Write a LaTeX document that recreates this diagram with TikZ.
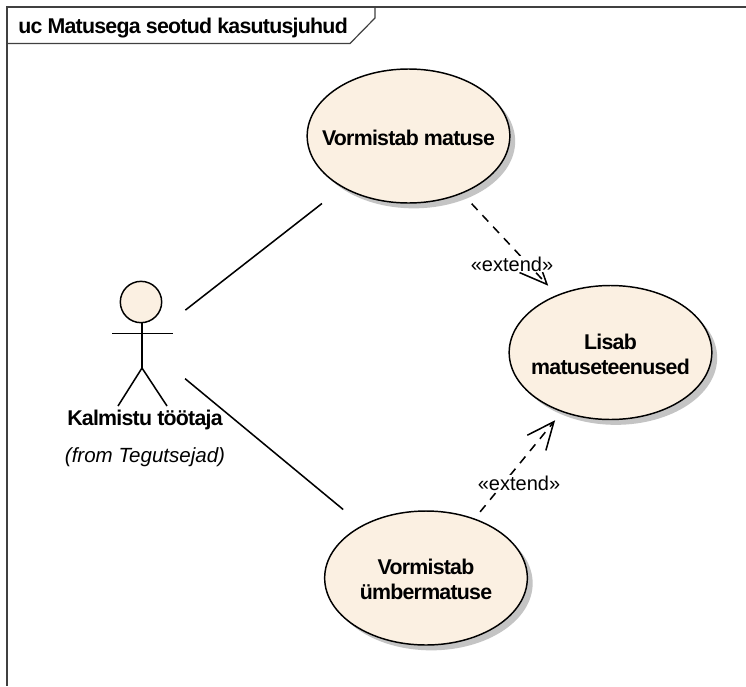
\documentclass[tikz,border=0pt]{standalone}
\usepackage{fontspec}
\setmainfont{Liberation Sans}
\newfontfamily\tightfont[LetterSpace=-3.5]{Liberation Sans}
\usetikzlibrary{arrows.meta,shapes.geometric,shadows}
\definecolor{caseFill}{HTML}{FBF0E2}
\definecolor{shadeGray}{HTML}{C4C4C4}
\definecolor{frameGray}{HTML}{404040}
\newcommand{\lowerline}[1]{\raisebox{-1.2pt}[\height][\depth]{#1}}
\tikzset{
  usecase/.style={shape=ellipse,draw=black,line width=1.1pt,fill=caseFill,
    minimum width=152pt,minimum height=100.5pt,inner sep=-22pt,outer sep=0pt,align=center,
    font=\tightfont\fontsize{16}{18.5}\selectfont\bfseries,
    drop shadow={shadow xshift=4pt,shadow yshift=-4pt,fill=shadeGray,opacity=1}},
  assoc/.style={draw=black,line width=1.15pt},
  dep/.style={draw=black,line width=1.15pt,dash pattern=on 6.4pt off 5.4pt,
    -{Straight Barb[length=20.5pt,width=18pt,line width=1.15pt]}},
  deplabel/.style={fill=white,inner sep=0.5pt,font=\fontsize{15}{18}\selectfont},
  stick/.style={draw=black,line width=1.15pt},
  framepen/.style={draw=frameGray,line width=0.9pt},
}
\begin{document}
\begin{tikzpicture}[x=0.75pt,y=-0.75pt]
\useasboundingbox (0,0) rectangle (746,686);
\fill[white] (0,0) rectangle (746,686);
% frame
\draw[framepen] (746,7) -- (7,7) -- (7,686);
\draw[framepen] (7,43.5) -- (350,43.5) -- (375,18) -- (375,7);
\node[inner sep=0pt,anchor=west,font=\tightfont\fontsize{16}{18}\selectfont\bfseries] (title) at (18,28) {uc Matusega seotud kasutusjuhud};
% use cases
\node[usecase] (a) at (408.5,136) {\lowerline{Vormistab matuse}};
\node[usecase] (b) at (610.5,352.5) {\lowerline{Lisab}\\\lowerline{matuseteenused}};
\node[usecase] (c) at (426,578) {\lowerline{Vormistab}\\\lowerline{ümbermatuse}};
% actor
\node[minimum width=46pt,minimum height=94pt,inner sep=0pt,outer sep=0pt] (actor) at (142.5,343.5) {};
\node[shape=circle,draw=black,line width=1.1pt,fill=caseFill,minimum size=31pt,inner sep=0pt,outer sep=0pt] (head) at (141,302) {};
\coordinate (neck) at (142,323);
\coordinate (hip) at (142,368);
\coordinate (armL) at (112,333.5);
\coordinate (armR) at (173,333.5);
\coordinate (legL) at (118,406);
\coordinate (legR) at (167,406);
\draw[stick] (neck) -- (hip);
\draw[stick] (armL) -- (armR);
\draw[stick] (legL) -- (hip) -- (legR);
\node[inner sep=0pt,font=\tightfont\fontsize{16}{18}\selectfont\bfseries] (actorname) at (145,420) {Kalmistu töötaja};
\node[inner sep=0pt,font=\fontsize{15.4}{18}\selectfont\itshape] (actorfrom) at (145,457) {(from Tegutsejad)};
% associations
\draw[assoc,shorten <=11.6pt,shorten >=20pt] (actor) -- (a);
\draw[assoc,shorten <=11.6pt,shorten >=19pt] (actor) -- (c);
% extends
\draw[dep,shorten <=11pt,shorten >=10pt] (a) -- (b);
\draw[dep,shorten <=7pt,shorten >=8.5pt] (c) -- (b);
\node[deplabel] (e1) at (512,264) {«extend»};
\node[deplabel] (e2) at (519,483) {«extend»};
\end{tikzpicture}
\end{document}
